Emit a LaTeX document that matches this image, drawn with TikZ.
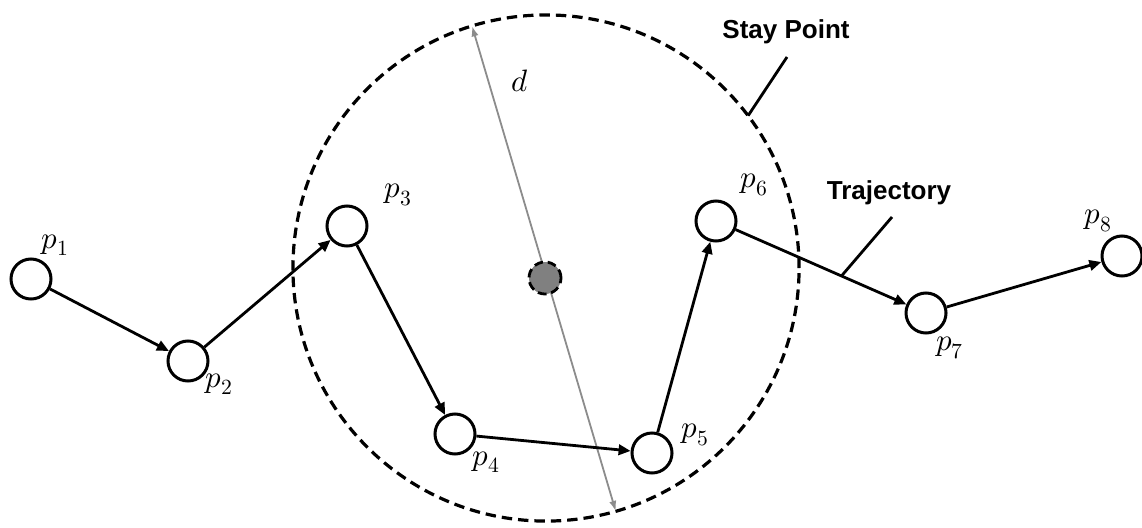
\documentclass[tikz,border=0pt]{standalone}
\usepackage{fontspec}
\usepackage{unicode-math}
\setmathfont{Latin Modern Math}
\setsansfont{Liberation Sans}
\usetikzlibrary{arrows.meta}
\begin{document}
\begin{tikzpicture}[x=0.025cm, y=-0.025cm,
        punto/.style={draw, circle, line width=0.75mm, minimum size=1cm, inner sep=0pt, fill=white},
        centro/.style={draw, circle, line width=0.7mm, dash pattern=on 2.2mm off 1.2mm, fill=black!50, minimum size=0.8cm, inner sep=0pt},
        zona/.style={draw, circle, line width=0.8mm, dash pattern=on 2.6mm off 1.5mm, minimum size=12.65cm, inner sep=0pt, outer sep=0pt},
        etiqueta/.style={font=\fontsize{22}{26}\selectfont, inner sep=0pt},
        texto/.style={font=\sffamily\bfseries\fontsize{18.5}{22}\selectfont, inner sep=0pt},
        flecha/.style={-{Triangle[length=3mm, width=2.6mm]}, line width=0.7mm},
        radio/.style={{Latex[length=2.6mm, width=1.8mm]}-{Latex[length=2.6mm, width=1.8mm]}, line width=0.45mm, black!45},
        guia/.style={line width=0.7mm}
    ]
    \useasboundingbox (0,0) rectangle (1142,527);
    \node[zona] (zona) at (546,268) {};
    \draw[radio] (zona.107) -- (zona.-74);
    \node[centro] (sp) at (545,278) {};

    \node[punto] (p1) at (31,279) {};
    \node[punto] (p2) at (188,361) {};
    \node[punto] (p3) at (347,226) {};
    \node[punto] (p4) at (455,434) {};
    \node[punto] (p5) at (652,453) {};
    \node[punto] (p6) at (716,221) {};
    \node[punto] (p7) at (926,313) {};
    \node[punto] (p8) at (1122,256) {};

    \node[etiqueta] (e1) at (55,245) {$p_1$};
    \node[etiqueta] (e2) at (219,384) {$p_2$};
    \node[etiqueta] (e3) at (398,195) {$p_3$};
    \node[etiqueta] (e4) at (486,462) {$p_4$};
    \node[etiqueta] (e5) at (695,435) {$p_5$};
    \node[etiqueta] (e6) at (754,185) {$p_6$};
    \node[etiqueta] (e7) at (950,348) {$p_7$};
    \node[etiqueta] (e8) at (1098,221) {$p_8$};
    \node[etiqueta] (ed) at (520,81) {$d$};

    \draw [flecha] (p1) -- (p2);
    \draw [flecha] (p2) -- (p3);
    \draw [flecha] (p3) -- (p4);
    \draw [flecha] (p4) -- (p5);
    \draw [flecha] (p5) -- (p6);
    \draw [flecha] (p6) -- coordinate[pos=0.62] (tr) (p7);
    \draw [flecha] (p7) -- (p8);

    % etiquetas de texto
    \node[texto] (stay) at (786,32) {Stay Point};
    \node[texto] (tray) at (889,193) {Trajectory};
    \coordinate (cstay) at (787,57);
    \coordinate (ctray) at (892,217);
    \draw [guia] (zona.37) -- (cstay);
    \draw [guia] (tr) -- (ctray);
\end{tikzpicture}
\end{document}
